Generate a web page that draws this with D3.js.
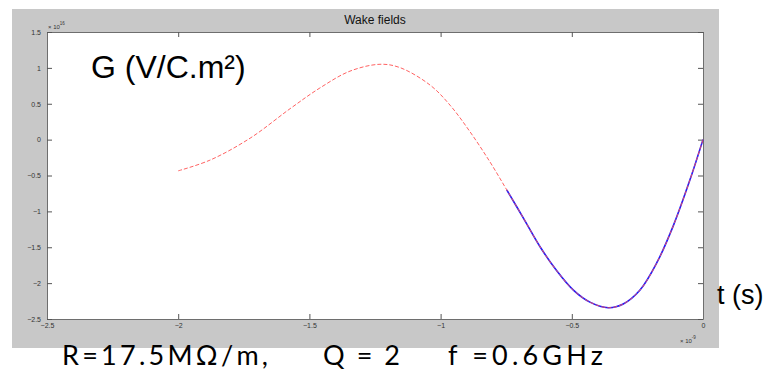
<!DOCTYPE html>
<html>
<head>
<meta charset="utf-8">
<script src="https://cdn.jsdelivr.net/npm/d3@7"></script>
<style>
  body { margin: 0; background: #fff; }
  svg { display: block; }
</style>
</head>
<body>
<div id="chart"></div>
<script>
// Values: t in units of 1e-9 s, G in units of 1e16 V/C.m^2
const tValues = [-2.0, -1.879, -1.726, -1.574, -1.46, -1.345, -1.231, -1.155, -1.04, -0.964, -0.888, -0.812,
                 -0.748, -0.685, -0.621, -0.558, -0.494, -0.431, -0.361, -0.304, -0.24, -0.176, -0.113, -0.05, 0];
const gValues = [-0.435, -0.286, 0.02, 0.43, 0.72, 0.955, 1.05, 1.004, 0.76, 0.48, 0.11, -0.31,
                 -0.70, -1.09, -1.493, -1.825, -2.098, -2.265, -2.343, -2.291, -2.096, -1.716, -1.198, -0.564, 0];
const solidFrom = -0.748; // blue solid part starts here
const xTicks = [-2.5, -2, -1.5, -1, -0.5, 0];
const yTicks = [-2.5, -2, -1.5, -1, -0.5, 0, 0.5, 1, 1.5];

const W = 767, H = 371;
const box = {left: 47, top: 32, right: 703, bottom: 319};

const svg = d3.select("#chart").append("svg")
  .attr("width", W).attr("height", H);

// figure background
svg.append("rect").attr("x", 12).attr("y", 9).attr("width", 707).attr("height", 339)
  .attr("fill", "#c8c8c8");
svg.append("rect").attr("x", box.left).attr("y", box.top)
  .attr("width", box.right - box.left).attr("height", box.bottom - box.top)
  .attr("fill", "#fff");

const x = d3.scaleLinear().domain([-2.5, 0]).range([box.left, box.right]);
const y = d3.scaleLinear().domain([-2.5, 1.5]).range([box.bottom, box.top]);

const fmt = d => d3.format("")(d);

// axes (ticks inside, box all round)
const axisStyle = g => {
  g.select(".domain").attr("stroke", "#6e6e6e");
  g.selectAll(".tick line").attr("stroke", "#555");
  g.selectAll(".tick text").attr("fill", "#333")
    .style("font-family", "Liberation Sans, Arial, sans-serif").style("font-size", "7px");
};
svg.append("g").attr("transform", `translate(0,${box.bottom})`)
  .call(d3.axisBottom(x).tickValues(xTicks).tickFormat(fmt).tickSizeInner(-5).tickSizeOuter(0).tickPadding(4))
  .call(axisStyle);
svg.append("g").attr("transform", `translate(0,${box.top})`)
  .call(d3.axisTop(x).tickValues(xTicks).tickFormat("").tickSizeInner(-5).tickSizeOuter(0))
  .call(axisStyle);
svg.append("g").attr("transform", `translate(${box.left},0)`)
  .call(d3.axisLeft(y).tickValues(yTicks).tickFormat(fmt).tickSizeInner(-5).tickSizeOuter(0).tickPadding(6))
  .call(axisStyle);
svg.append("g").attr("transform", `translate(${box.right},0)`)
  .call(d3.axisRight(y).tickValues(yTicks).tickFormat("").tickSizeInner(-5).tickSizeOuter(0))
  .call(axisStyle);

// exponent labels
const small = (sel) => sel.style("font-family", "Liberation Sans, Arial, sans-serif").attr("fill", "#333");
const e1 = svg.append("text").attr("x", 48).attr("y", 29).call(small).style("font-size", "6px");
e1.append("tspan").text("\u00d7 10");
e1.append("tspan").attr("dy", -4).style("font-size", "4.5px").text("16");
const e2 = svg.append("text").attr("x", 680).attr("y", 343).call(small).style("font-size", "6px");
e2.append("tspan").text("\u00d7 10");
e2.append("tspan").attr("dy", -4).style("font-size", "4.5px").text("-9");

// title
svg.append("text").attr("x", 375).attr("y", 24).attr("text-anchor", "middle")
  .style("font-family", "Liberation Sans, Arial, sans-serif").style("font-size", "12px")
  .attr("fill", "#111").text("Wake fields");

// curves
const pts = tValues.map((t, i) => ({t, g: gValues[i]}));
const line = d3.line().x(d => x(d.t)).y(d => y(d.g)).curve(d3.curveCatmullRom.alpha(0.5));

svg.append("path").datum(pts.filter(d => d.t >= solidFrom))
  .attr("fill", "none").attr("stroke", "#1a1aff").attr("stroke-width", 1.6).attr("d", line);
svg.append("path").datum(pts)
  .attr("fill", "none").attr("stroke", "#ff5050").attr("stroke-width", 0.9)
  .attr("stroke-dasharray", "4,2").attr("d", line);

// big annotation labels
const big = sel => sel.style("font-family", "Liberation Sans, Arial, sans-serif").attr("fill", "#000");
svg.append("text").attr("x", 91).attr("y", 78).call(big).style("font-size", "32px").text("G (V/C.m\u00b2)");
svg.append("text").attr("x", 717).attr("y", 304).call(big).style("font-size", "27px").text("t (s)");

const bottom = sel => sel.style("font-family", "Lato, sans-serif").attr("fill", "#000")
  .style("font-size", "27px").attr("lengthAdjust", "spacing");
svg.append("text").attr("x", 62).attr("y", 365).call(bottom).attr("textLength", 206).text("R=17.5M\u03a9/m,");
svg.append("text").attr("x", 323).attr("y", 365).call(bottom).attr("textLength", 77).text("Q=2");
svg.append("text").attr("x", 448).attr("y", 365).call(bottom).attr("textLength", 155).text("f =0.6GHz");
</script>
</body>
</html>
